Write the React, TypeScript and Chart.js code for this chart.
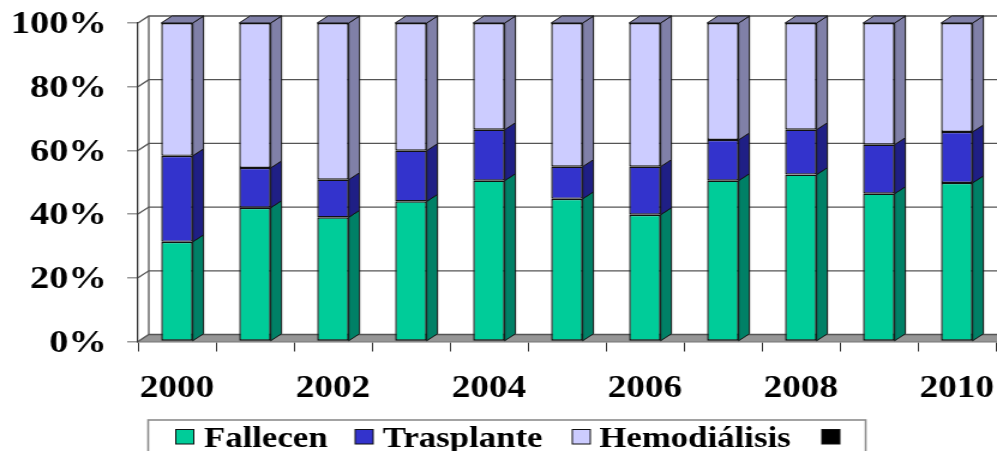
import React, { useEffect, useRef } from "react";
import { Chart, registerables } from "chart.js";

Chart.register(...registerables);

const years = ["2000", "2001", "2002", "2003", "2004", "2005", "2006", "2007", "2008", "2009", "2010"];
const fallecen = [31.3, 42, 39, 44, 50.5, 44.8, 39.8, 50.5, 52.4, 46.4, 49.8];
const trasplante = [27, 12.5, 11.8, 15.9, 16, 10.1, 15.1, 12.8, 14.1, 15.4, 16];
const hemodialisis = [41.7, 45.5, 49.2, 40.1, 33.5, 45.1, 45.1, 36.7, 33.5, 38.2, 34.2];

const CW = 831;
const CH = 451;
const SX = 997 / CW;
const DX = 9;
const DY = 7;
const FONT = "'Liberation Serif', 'Times New Roman', serif";

const faceColors = ["#00CC99", "#3333CC", "#CCCCFF"];
const sideColors = ["#008066", "#1F1F85", "#8080A8"];
const topColor = "#8080A8";
const legendX = [
  { box: 146.5, text: 170 },
  { box: 296, text: 319 },
  { box: 477, text: 499.5 },
  { box: 685, text: 0 },
];

const wallPlugin = {
  id: "wall3d",
  beforeDraw(chart: any) {
    chart.scales.y.getLabelItems().forEach((item: any) => {
      if (item.shifted) return;
      item.shifted = true;
      const [tx, ty] = item.options.translation;
      item.options.translation = [tx, ty + 2];
    });
  },
  beforeDatasetsDraw(chart: any) {
    const { ctx, scales, chartArea } = chart;
    const y = scales.y;
    const left = chartArea.left;
    const right = CW + 20;
    const bottom = y.getPixelForValue(0);
    ctx.save();
    ctx.fillStyle = "#969696";
    ctx.beginPath();
    ctx.moveTo(left, bottom);
    ctx.lineTo(left + DX, bottom - DY);
    ctx.lineTo(right, bottom - DY);
    ctx.lineTo(right, bottom);
    ctx.closePath();
    ctx.fill();
    ctx.strokeStyle = "#555555";
    ctx.lineWidth = 1.3;
    y.ticks.forEach((t: any) => {
      const py = y.getPixelForValue(t.value);
      ctx.beginPath();
      ctx.moveTo(left, py);
      ctx.lineTo(left + DX, py - DY);
      ctx.lineTo(right, py - DY);
      ctx.stroke();
    });
    ctx.beginPath();
    ctx.moveTo(left + DX, y.getPixelForValue(100) - DY);
    ctx.lineTo(left + DX, bottom - DY);
    ctx.stroke();
    ctx.restore();
  },
  afterDatasetsDraw(chart: any) {
    const { ctx } = chart;
    ctx.save();
    ctx.strokeStyle = "#111111";
    ctx.lineWidth = 1;
    chart.data.datasets.forEach((_: any, di: number) => {
      if (di > 2) return;
      chart.getDatasetMeta(di).data.forEach((bar: any) => {
        const { x, y, base, width } = bar.getProps(["x", "y", "base", "width"], true);
        const r = x + width / 2;
        const l = x - width / 2;
        ctx.fillStyle = sideColors[di];
        ctx.beginPath();
        ctx.moveTo(r, y);
        ctx.lineTo(r + DX, y - DY);
        ctx.lineTo(r + DX, base - DY);
        ctx.lineTo(r, base);
        ctx.closePath();
        ctx.fill();
        ctx.stroke();
        if (di === 2) {
          ctx.fillStyle = topColor;
          ctx.beginPath();
          ctx.moveTo(l, y);
          ctx.lineTo(l + DX, y - DY);
          ctx.lineTo(r + DX, y - DY);
          ctx.lineTo(r, y);
          ctx.closePath();
          ctx.fill();
          ctx.stroke();
        }
      });
    });
    ctx.restore();
  },
  afterDraw(chart: any) {
    const { ctx } = chart;
    ctx.save();
    ctx.strokeStyle = "#8c8c8c";
    ctx.lineWidth = 1.6;
    ctx.strokeRect(123.5, 420, 598, 60);
    ctx.font = `bold 29px ${FONT}`;
    ctx.textBaseline = "alphabetic";
    chart.data.datasets.forEach((d: any, i: number) => {
      ctx.fillStyle = d.backgroundColor;
      ctx.strokeStyle = "#111111";
      ctx.lineWidth = 1;
      ctx.fillRect(legendX[i].box, 429.5, 15, 14.5);
      ctx.strokeRect(legendX[i].box, 429.5, 15, 14.5);
      if (d.label) {
        ctx.fillStyle = "#000000";
        ctx.fillText(d.label, legendX[i].text, 447);
      }
    });
    ctx.restore();
  },
};

export default function App() {
  const ref = useRef<HTMLCanvasElement>(null);
  useEffect(() => {
    const chart = new Chart(ref.current!, {
      type: "bar",
      data: {
        labels: years,
        datasets: [
          { label: "Fallecen", data: fallecen, backgroundColor: faceColors[0] },
          { label: "Trasplante", data: trasplante, backgroundColor: faceColors[1] },
          { label: "Hemodiálisis", data: hemodialisis, backgroundColor: faceColors[2] },
          { label: "", data: [], backgroundColor: "#000000" },
        ].map((d) => ({
          ...d,
          borderColor: "#111111",
          borderWidth: 1.4,
          borderSkipped: false,
          categoryPercentage: 1,
          barPercentage: 0.405,
        })),
      },
      options: {
        responsive: false,
        animation: false,
        devicePixelRatio: 1,
        layout: { padding: { top: 23, right: 1, left: 0, bottom: 0 } },
        plugins: { legend: { display: false }, tooltip: { enabled: false } },
        scales: {
          x: {
            stacked: true,
            grid: { drawOnChartArea: false, drawTicks: true, tickLength: 10, color: "#333333", lineWidth: 1 },
            border: { color: "#777777", width: 1.5 },
            afterFit(s: any) { s.height = 109.5; s.paddingLeft = 0; s.paddingRight = 0; },
            ticks: {
              autoSkip: false,
              maxRotation: 0,
              padding: 19,
              color: "#000000",
              font: { family: FONT, size: 31, weight: "bold" },
              callback(_v: any, i: number) { return i % 2 === 0 ? years[i] : ""; },
            },
          },
          y: {
            stacked: true,
            min: 0,
            max: 100,
            grid: { drawOnChartArea: false, drawTicks: true, tickLength: 9, color: "#999999", lineWidth: 1.5 },
            border: { color: "#333333", width: 1.3 },
            afterFit(s: any) { s.width = 115; s.paddingTop = 0; s.paddingBottom = 0; },
            ticks: {
              stepSize: 20,
              padding: 17,
              color: "#000000",
              font: { family: FONT, size: 32, weight: "bold" },
              callback(v: any) { return v + "%"; },
            },
          },
        },
      },
      plugins: [wallPlugin],
    } as any);
    return () => chart.destroy();
  }, []);
  return (
    <div style={{ position: "fixed", left: 0, top: 0, width: 997, height: 451, overflow: "hidden", background: "#fff" }}>
      <canvas
        ref={ref}
        width={CW}
        height={CH}
        style={{ transform: `scaleX(${SX})`, transformOrigin: "0 0", display: "block", filter: "blur(0.35px)" }}
      />
    </div>
  );
}
